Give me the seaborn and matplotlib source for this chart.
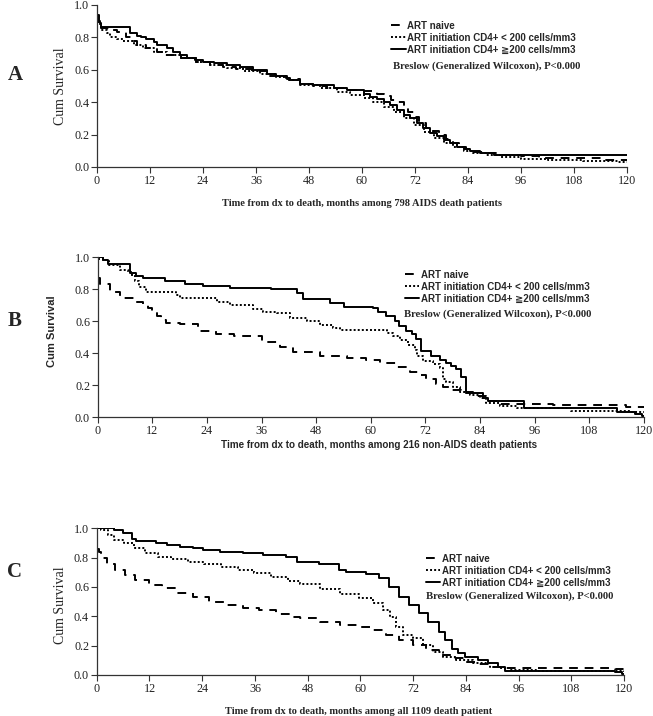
import matplotlib
matplotlib.use("Agg")
import matplotlib.pyplot as plt
import seaborn as sns
from matplotlib.lines import Line2D

# ---- data (months, cumulative survival) ----
# Panel A: 798 AIDS death patients
a_naive_t = [0, 0.5, 1, 3, 4.5, 6.5, 8, 9, 11, 13.5, 15.5, 19, 22.5, 25.5, 28.5, 31.5, 35, 39, 43, 46,
             49, 52, 56.5, 60.5, 63.5, 65, 66.5, 68, 69.5, 70.5, 72, 73, 74.5, 76, 77.5, 79, 80.5, 82,
             83.5, 85, 88, 91, 96, 100, 114, 120]
a_naive_s = [0.94, 0.89, 0.86, 0.845, 0.835, 0.80, 0.78, 0.755, 0.735, 0.71, 0.69, 0.67, 0.65, 0.63,
             0.62, 0.605, 0.59, 0.56, 0.545, 0.51, 0.50, 0.49, 0.475, 0.47, 0.45, 0.44, 0.415, 0.40,
             0.37, 0.34, 0.31, 0.27, 0.24, 0.22, 0.20, 0.17, 0.145, 0.125, 0.11, 0.095, 0.085, 0.075,
             0.065, 0.055, 0.045, 0.04]
a_low_t = [0, 0.3, 1, 2.3, 3, 4.5, 6, 8.3, 10.5, 12.8, 15.8, 19, 22.5, 25.5, 29.5, 33, 37, 40.5, 43,
           46, 50.5, 54.3, 57.2, 60.4, 62.6, 65, 67.2, 69.4, 71.7, 74, 76.2, 78.5, 80.7, 83, 85.2, 88,
           91.3, 96, 102, 110, 118, 120]
a_low_s = [0.92, 0.88, 0.845, 0.825, 0.80, 0.79, 0.775, 0.755, 0.735, 0.71, 0.69, 0.67, 0.65, 0.63,
           0.613, 0.595, 0.575, 0.553, 0.537, 0.506, 0.486, 0.465, 0.444, 0.424, 0.40, 0.372, 0.34,
           0.30, 0.26, 0.218, 0.177, 0.146, 0.125, 0.10, 0.085, 0.074, 0.064, 0.05, 0.04, 0.035,
           0.03, 0.03]
a_high_t = [0, 0.3, 0.7, 1, 7.5, 9, 10, 11.2, 12.8, 13.6, 15.8, 17.3, 18.9, 20.4, 22.3, 24.1, 26.4,
            29.4, 32.4, 35.4, 38.4, 40.6, 42.9, 43.8, 46, 49, 53.6, 56.6, 60.4, 61.9, 63.4, 64.9, 66.4,
            67.9, 69.4, 70.9, 72.4, 73.9, 75.5, 77, 78.5, 80, 81.5, 83, 84.5, 86.8, 89.8, 120]
a_high_s = [0.93, 0.90, 0.887, 0.866, 0.825, 0.81, 0.80, 0.79, 0.773, 0.753, 0.733, 0.71, 0.69, 0.67,
            0.66, 0.65, 0.64, 0.63, 0.62, 0.60, 0.574, 0.56, 0.547, 0.537, 0.512, 0.506, 0.49, 0.475,
            0.45, 0.434, 0.42, 0.40, 0.38, 0.35, 0.32, 0.30, 0.27, 0.24, 0.21, 0.19, 0.167, 0.146,
            0.125, 0.11, 0.10, 0.085, 0.074, 0.074]

# Panel B: 216 non-AIDS death patients
b_naive_t = [0, 0.5, 2.7, 5, 8, 10, 11, 12, 13, 14, 15, 18, 22, 26, 30, 36, 40, 43, 48.8, 54.7, 59,
             62, 65.6, 68.6, 70.8, 72.2, 74.4, 75.9, 77.3, 79.9, 82.5, 85.4, 88.3, 100, 116, 120]
b_naive_s = [0.87, 0.83, 0.78, 0.745, 0.72, 0.70, 0.68, 0.66, 0.635, 0.61, 0.59, 0.58, 0.54, 0.52,
             0.505, 0.47, 0.44, 0.41, 0.383, 0.37, 0.358, 0.337, 0.316, 0.285, 0.264, 0.24, 0.21,
             0.19, 0.17, 0.15, 0.13, 0.10, 0.083, 0.075, 0.065, 0.06]
b_low_t = [0, 1.2, 2.5, 4.9, 6.7, 7.5, 8.2, 9, 10.7, 17.3, 18, 26.1, 29, 34.2, 36.4, 39.3, 42.2, 45.9,
           48.8, 51.7, 53.2, 63.5, 64.9, 66.4, 68.2, 69.7, 70.2, 71.5, 73.7, 75.1, 75.9, 76.6, 78.1,
           79.5, 81.7, 83.9, 85.4, 88.3, 92, 104, 117, 120]
b_low_s = [0.99, 0.98, 0.95, 0.92, 0.91, 0.88, 0.85, 0.815, 0.785, 0.765, 0.748, 0.72, 0.70, 0.675,
           0.66, 0.65, 0.62, 0.60, 0.577, 0.556, 0.545, 0.525, 0.51, 0.48, 0.45, 0.42, 0.38, 0.35,
           0.33, 0.31, 0.24, 0.22, 0.19, 0.16, 0.14, 0.12, 0.088, 0.07, 0.055, 0.04, 0.03, 0.03]
b_high_t = [0, 1.2, 2.2, 7.2, 8.5, 10, 14.8, 19.2, 23.2, 29, 38, 43.8, 45, 51, 54, 60.5, 61.6, 63.4,
            65.3, 66.2, 67.8, 69, 70, 71.1, 73.3, 75.1, 76.6, 77.7, 78.8, 79.9, 81, 82.5, 84.7, 85.8,
            93.7, 114, 118, 119.5, 120]
b_high_s = [1.0, 0.98, 0.955, 0.90, 0.885, 0.87, 0.85, 0.835, 0.82, 0.81, 0.80, 0.775, 0.74, 0.716,
            0.69, 0.68, 0.66, 0.63, 0.60, 0.57, 0.54, 0.52, 0.49, 0.416, 0.383, 0.36, 0.34, 0.32, 0.30,
            0.25, 0.16, 0.15, 0.12, 0.10, 0.055, 0.035, 0.02, 0.01, 0.01]

# Panel C: all 1109 death patients
c_naive_t = [0, 0.5, 1, 2.3, 4.2, 6.5, 8.8, 11.9, 14.9, 18, 21.8, 25.6, 29.4, 33.2, 37, 40.8, 43.9,
             46.2, 50.8, 55.3, 59.8, 62.9, 65.9, 68.9, 72, 75, 78, 81, 84.1, 87.1, 90.1, 92.4, 118, 120]
c_naive_s = [0.86, 0.84, 0.795, 0.76, 0.716, 0.68, 0.648, 0.613, 0.59, 0.56, 0.53, 0.50, 0.477, 0.46,
             0.44, 0.416, 0.397, 0.386, 0.363, 0.34, 0.33, 0.307, 0.273, 0.24, 0.205, 0.17, 0.136,
             0.114, 0.09, 0.075, 0.057, 0.045, 0.04, 0.035]
c_low_t = [0, 1, 2.5, 4, 6.3, 8.6, 10.9, 13.9, 16.9, 20.7, 24.5, 28.3, 32.1, 35.9, 39.7, 43.5, 46.2,
           50.8, 55.3, 59.8, 62.9, 65.1, 66.7, 68.2, 69.7, 72, 74.2, 76.5, 78.8, 81.8, 85.6, 89.4,
           91.6, 94, 100, 118, 120]
c_low_s = [1.0, 0.99, 0.954, 0.92, 0.90, 0.864, 0.83, 0.806, 0.79, 0.773, 0.757, 0.738, 0.716, 0.693,
           0.67, 0.64, 0.62, 0.585, 0.55, 0.523, 0.489, 0.443, 0.397, 0.33, 0.273, 0.25, 0.205,
           0.159, 0.125, 0.10, 0.08, 0.057, 0.045, 0.035, 0.03, 0.025, 0.02]
c_high_t = [0, 4, 6, 8, 9, 13.6, 15.9, 18.9, 21.9, 24.2, 28, 33.3, 37.8, 43, 45.5, 50.6, 55.2, 56.7,
            61.2, 64.2, 66.5, 68.8, 71, 73.3, 75.5, 77.8, 79.3, 80.8, 82.3, 83.8, 86.8, 89, 91.3, 93,
            112, 118, 119.5, 120]
c_high_s = [1.0, 0.99, 0.966, 0.93, 0.916, 0.90, 0.886, 0.875, 0.864, 0.852, 0.84, 0.83, 0.818, 0.806,
            0.77, 0.76, 0.716, 0.704, 0.688, 0.66, 0.60, 0.534, 0.477, 0.42, 0.363, 0.295, 0.24, 0.18,
            0.148, 0.125, 0.10, 0.08, 0.057, 0.03, 0.025, 0.02, 0.01, 0.01]

group_labels = ["ART naive", "ART initiation CD4+ < 200 cells/mm3", "ART initiation CD4+ \u2267200 cells/mm3"]
x_ticks = [0, 12, 24, 36, 48, 60, 72, 84, 96, 108, 120]
y_ticks = [0.0, 0.2, 0.4, 0.6, 0.8, 1.0]
panel_letters = ["A", "B", "C"]
x_titles = ["Time from dx to death, months among 798 AIDS death patients",
            "Time from dx to death, months among 216 non-AIDS death patients",
            "Time from dx to death, months among all 1109 death patient"]
test_note = "Breslow (Generalized Wilcoxon), P<0.000"

sns.set_style("ticks")
plt.rcParams["font.family"] = ["Liberation Serif", "DejaVu Serif"]
serif = ["Liberation Serif", "DejaVu Serif"]
sans = ["Liberation Sans", "DejaVu Sans"]
narrow = ["Liberation Sans Narrow", "Liberation Sans", "DejaVu Sans"]

styles = [(0, (4.5, 3.5)), (0, (1, 1.1)), "-"]

fig = plt.figure(figsize=(6.53, 7.16), dpi=100)
axes_boxes = [[0.1485, 0.7668, 0.8117, 0.2263],
              [0.1496, 0.4172, 0.8366, 0.2235],
              [0.1481, 0.0573, 0.8075, 0.2048]]
panels = [
    [(a_naive_t, a_naive_s), (a_low_t, a_low_s), (a_high_t, a_high_s)],
    [(b_naive_t, b_naive_s), (b_low_t, b_low_s), (b_high_t, b_high_s)],
    [(c_naive_t, c_naive_s), (c_low_t, c_low_s), (c_high_t, c_high_s)],
]
legend_pos = [(0.555, 0.903), (0.562, 0.922), (0.624, 0.826)]
note_pos = [(0.558, 0.625), (0.561, 0.642), (0.625, 0.535)]
ylabel_pos = [(-0.057, 0.5), (-0.0745, 0.535), (-0.057, 0.477)]
xlabel_pos = [(0.5, -0.2), (0.515, -0.145), (0.497, -0.215)]
letter_y = [75, 321, 572]

for i, ax_box in enumerate(axes_boxes):
    ax = fig.add_axes(ax_box)
    for (t, s), ls in zip(panels[i], styles):
        sns.lineplot(x=t, y=s, ax=ax, color="black", linestyle=ls, lw=1.4,
                     drawstyle="steps-post", errorbar=None, legend=False)
    ax.set_xlim(0, 120)
    ax.set_ylim(0, 1.0)
    ax.set_xticks(x_ticks)
    ax.set_yticks(y_ticks)
    ax.set_yticklabels([f"{v:.1f}" for v in y_ticks])
    ax.tick_params(direction="out", length=4, width=0.8, color="#333333",
                   labelsize=8.7, pad=1.5, labelcolor="#222222")
    for lab in ax.get_xticklabels() + ax.get_yticklabels():
        lab.set_family(serif)
    sns.despine(ax=ax)
    for sp in ["left", "bottom"]:
        ax.spines[sp].set_color("#333333")
        ax.spines[sp].set_linewidth(0.9)

    if i == 1:
        ax.set_ylabel("Cum Survival", family=sans, fontsize=8, fontweight="bold")
        ax.set_xlabel(x_titles[i], family=sans, fontsize=7.1, fontweight="bold")
    else:
        ax.set_ylabel("Cum Survival", family=serif, fontsize=10)
        ax.set_xlabel(x_titles[i], family=serif, fontsize=7.5, fontweight="bold")
    ax.yaxis.set_label_coords(*ylabel_pos[i])
    ax.xaxis.set_label_coords(*xlabel_pos[i])

    handles = [Line2D([], [], color="black", lw=1.4, linestyle=ls) for ls in styles]
    ax.legend(handles, group_labels, loc="upper left", bbox_to_anchor=legend_pos[i],
              frameon=False, borderpad=0, borderaxespad=0, handlelength=1.5,
              handletextpad=0.15, labelspacing=0.2,
              prop={"family": narrow, "weight": "bold", "size": 7})
    ax.text(note_pos[i][0], note_pos[i][1], test_note, transform=ax.transAxes,
            family=serif, fontweight="bold", fontsize=7.7, va="center", ha="left")

    fig.text(15 / 653, 1 - letter_y[i] / 716, panel_letters[i], family=serif,
             fontweight="bold", fontsize=15, ha="center", va="center")

fig.savefig("out.png", dpi=100)
